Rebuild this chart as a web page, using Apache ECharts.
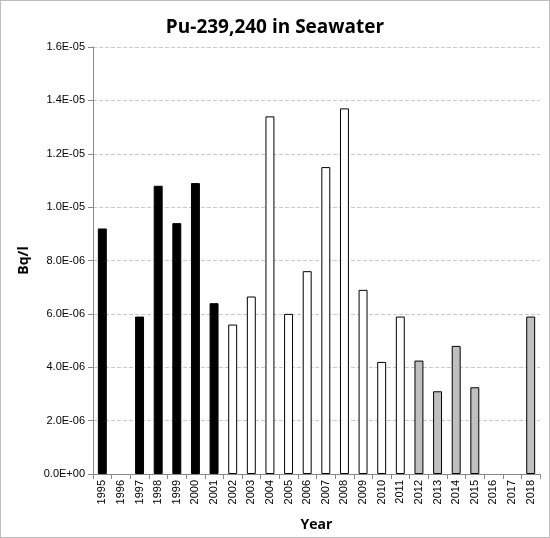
<!DOCTYPE html>
<html>
<head>
<meta charset="utf-8">
<script src="https://cdn.jsdelivr.net/npm/echarts@6/dist/echarts.min.js"></script>
<style>
  html, body { margin: 0; padding: 0; background: #fff; }
  #chart { width: 548px; height: 536px; border: 1px solid #bdbdbd; }
</style>
</head>
<body>
<div id="chart"></div>
<script>
// data
const years = ['1995','1996','1997','1998','1999','2000','2001','2002','2003','2004','2005',
  '2006','2007','2008','2009','2010','2011','2012','2013','2014','2015','2016','2017','2018'];
const values = [9.2e-6, null, 5.9e-6, 1.08e-5, 9.4e-6, 1.09e-5, 6.4e-6, 5.6e-6, 6.65e-6, 1.34e-5, 6.0e-6,
  7.6e-6, 1.15e-5, 1.37e-5, 6.9e-6, 4.2e-6, 5.9e-6, 4.25e-6, 3.1e-6, 4.8e-6, 3.25e-6, null, null, 5.9e-6];
// which fill each bar uses: b = black, w = white, g = grey
const groups = ['b','b','b','b','b','b','b','w','w','w','w','w','w','w','w','w','w','g','g','g','g','g','g','g'];
const fills = { b: '#000000', w: '#ffffff', g: '#bfbfbf' };

function sci(v) {
  if (v === 0) return '0.0E+00';
  const [m, e] = v.toExponential(1).split('e');
  const n = parseInt(e, 10);
  return m + 'E' + (n < 0 ? '-' : '+') + String(Math.abs(n)).padStart(2, '0');
}

const chart = echarts.init(document.getElementById('chart'));
chart.setOption({
  animation: false,
  title: {
    text: 'Pu-239,240 in Seawater',
    left: 'center',
    top: 12,
    textStyle: { fontFamily: 'Open Sans', fontSize: 19, fontWeight: 'bold', color: '#000' }
  },
  grid: { left: 92, right: 9, top: 46, bottom: 63 },
  xAxis: {
    type: 'category',
    data: years,
    name: 'Year',
    nameLocation: 'middle',
    nameGap: 44,
    nameTextStyle: { fontFamily: 'Open Sans', fontSize: 14, fontWeight: 'bold', color: '#000' },
    axisLine: { lineStyle: { color: '#888' } },
    axisTick: { show: true, alignWithLabel: false, lineStyle: { color: '#888' } },
    axisLabel: { rotate: 90, interval: 0, fontFamily: 'Liberation Sans', fontSize: 11, color: '#000', margin: 6 }
  },
  yAxis: {
    type: 'value',
    min: 0,
    max: 1.6e-5,
    interval: 2e-6,
    name: 'Bq/l',
    nameLocation: 'middle',
    nameGap: 62,
    nameTextStyle: { fontFamily: 'Open Sans', fontSize: 14, fontWeight: 'bold', color: '#000' },
    axisLine: { show: true, lineStyle: { color: '#888' } },
    axisTick: { show: true, lineStyle: { color: '#888' } },
    axisLabel: { formatter: sci, fontFamily: 'Liberation Sans', fontSize: 11, color: '#000' },
    splitLine: { lineStyle: { color: '#c8c8c8', type: 'dashed' } }
  },
  series: [{
    type: 'bar',
    barWidth: '48%',
    data: values.map((v, i) => ({
      value: v,
      itemStyle: { color: fills[groups[i]], borderColor: '#000', borderWidth: 1 }
    }))
  }]
});
</script>
</body>
</html>
